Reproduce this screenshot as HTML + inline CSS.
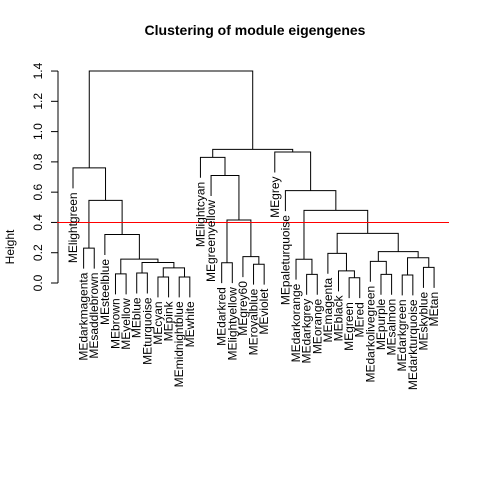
<!DOCTYPE html>
<html><head><meta charset="utf-8"><style>
html,body{margin:0;padding:0;background:#fff}
svg{display:block;font-family:"Liberation Sans",sans-serif}
</style></head><body>
<svg id="chart" width="480" height="480" viewBox="0 0 480 480">
<rect x="0" y="0" width="480" height="480" fill="#fff"/>
<text x="255" y="35" text-anchor="middle" font-size="14" font-weight="bold">Clustering of module eigengenes</text>
<text transform="translate(14,247) rotate(-90)" text-anchor="middle" font-size="12">Height</text>
<g id="axis"></g>
<g id="tree"></g>
<g id="labels"></g>
</svg>
<script>
const leafLabels = ["MElightgreen","MEdarkmagenta","MEsaddlebrown","MEsteelblue","MEbrown","MEyellow","MEblue","MEturquoise","MEcyan","MEpink","MEmidnightblue","MEwhite","MElightcyan","MEgreenyellow","MEdarkred","MElightyellow","MEgrey60","MEroyalblue","MEviolet","MEgrey","MEpaleturquoise","MEdarkorange","MEdarkgrey","MEorange","MEmagenta","MEblack","MEgreen","MEred","MEdarkolivegreen","MEpurple","MEsalmon","MEdarkgreen","MEdarkturquoise","MEskyblue","MEtan"];
const mergeLeft = [-9,-11,1,-7,4,-5,6,-4,-2,9,-1,-18,-17,-15,14,-14,-13,-23,-22,-27,-26,-25,-30,-29,-32,-34,25,24,22,19,-21,-20,17,11];
const mergeRight = [-10,-12,2,-8,3,-6,5,7,-3,8,10,-19,12,-16,13,15,16,-24,18,-28,20,21,-31,23,-33,-35,26,27,28,29,30,31,32,33];
const mergeHeights = [0.04,0.04,0.10,0.066,0.135,0.06,0.158,0.32,0.23,0.546,0.76,0.124,0.174,0.134,0.416,0.71,0.83,0.057,0.157,0.035,0.08,0.196,0.057,0.143,0.053,0.103,0.167,0.207,0.328,0.48,0.61,0.865,0.883,1.40];
const yTicks = [0,0.2,0.4,0.6,0.8,1.0,1.2,1.4];
const cutHeight = 0.4;
const hang = 0.135;

const NS="http://www.w3.org/2000/svg";
const y = h => 283 - h*151.4;
const xLeaf = i => 73 + (i-1)*10.62;
function mk(tag, attrs, parent){const e=document.createElementNS(NS,tag);for(const k in attrs)e.setAttribute(k,attrs[k]);parent.appendChild(e);return e;}

const axis=document.getElementById('axis');
const a=mk('line',{x1:58,x2:58,y1:y(0),y2:y(1.4),stroke:'#000','stroke-width':1},axis);


yTicks.forEach(t=>{
  const l=mk('line',{x1:51,x2:58,y1:y(t),y2:y(t),stroke:'#000'},axis);
  
  
  const tx=mk('text',{transform:`translate(42,${y(t)}) rotate(-90)`,'text-anchor':'middle','font-size':12},axis);
  
  
  tx.textContent=t.toFixed(1);
});

const tree=document.getElementById('tree');
const labels=document.getElementById('labels');
const nodeX=[], nodeH=[];
function cx(ref){return ref<0?xLeaf(-ref):nodeX[ref-1];}
function ch(ref,parentH){return ref<0?parentH-hang:nodeH[ref-1];}
for(let k=0;k<mergeHeights.length;k++){
  const h=mergeHeights[k], l=mergeLeft[k], r=mergeRight[k];
  const xl=cx(l), xr=cx(r);
  const p=mk('path',{d:`M${xl},${y(ch(l,h))}V${y(h)}H${xr}V${y(ch(r,h))}`,fill:'none',stroke:'#000','stroke-width':1},tree);
  
  
  nodeX[k]=(xl+xr)/2; nodeH[k]=h;
  [[l,xl],[r,xr]].forEach(([ref,xx])=>{
    if(ref<0){
      const t=mk('text',{transform:`translate(${xx+4},${y(h-hang)+4}) rotate(-90)`,'text-anchor':'end','font-size':12},labels);
      
      
      t.textContent=leafLabels[-ref-1];
    }
  });
}
const cut=mk('line',{x1:57,x2:449,y1:y(cutHeight),y2:y(cutHeight),stroke:'#ff0000','stroke-width':1},tree);


</script>
</body></html>
